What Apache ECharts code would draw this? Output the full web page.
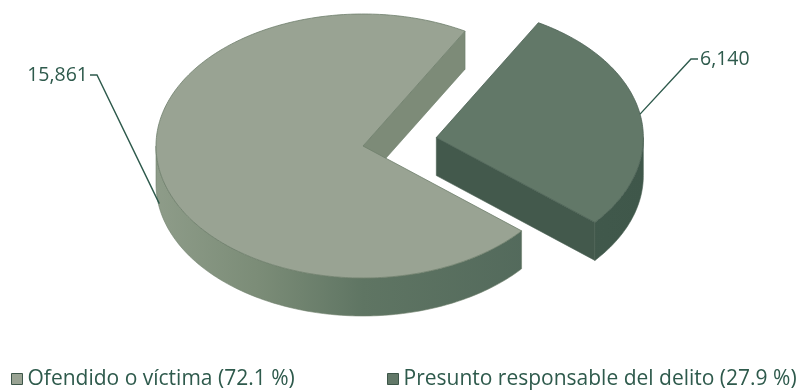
<!DOCTYPE html>
<html>
<head>
<meta charset="utf-8">
<script src="https://cdn.jsdelivr.net/npm/echarts@6/dist/echarts.min.js"></script>
<style>
  html, body { margin: 0; padding: 0; background: #ffffff; }
  #chart { width: 804px; height: 392px; }
</style>
</head>
<body>
<div id="chart"></div>
<script>
// Data
const categories = ['Ofendido o víctima', 'Presunto responsable del delito'];
const values = [15861, 6140];

// Styling per category
const topColors = ['#99a393', '#627868'];
const wallColors = ['#7d8b78', '#43594c'];
const sideStops = [
  [[0, '#8e9c89'], [0.25, '#7b8c77'], [0.5, '#5f7563'], [1, '#50675a']],
  [[0, '#4a6255'], [1, '#3f574a']]
];
const edgeColors = ['#6f7f6c', '#4b6154'];
const explode = [0, 0.36];          // offset of each slice, in radius units
const leaderDrop = [0.9, 0];        // where the leader meets the slice (fraction of depth)
const labelBox = [                  // text anchor and alignment of value labels
  { x: 88, y: 75, align: 'right' },
  { x: 700, y: 59, align: 'left' }
];

// Pie geometry (ellipse of the tilted disc)
const CX = 363, CY = 146, RX = 207, RY = 132, DEPTH = 38;
const START = 40;                   // degrees, clockwise on screen

const total = values.reduce((a, b) => a + b, 0);
const pct = values.map(v => (v / total * 100).toFixed(1));
const legendNames = categories.map((c, i) => c + ' (' + pct[i] + ' %)');

function angles(i) {
  let a = START;
  for (let k = 0; k < i; k++) a += values[k] / total * 360;
  return [a, a + values[i] / total * 360];
}
const rad = d => d * Math.PI / 180;

function makeRender(i) {
  return function (params, api) {
    const [a0, a1] = angles(i);
    const mid = (a0 + a1) / 2;
    const ox = CX + explode[i] * RX * Math.cos(rad(mid));
    const oy = CY + explode[i] * RY * Math.sin(rad(mid));
    const rim = (t, dy) => [ox + RX * Math.cos(rad(t)), oy + RY * Math.sin(rad(t)) + (dy || 0)];
    const arc = (lo, hi, dy) => {
      const pts = [];
      const n = Math.max(2, Math.ceil(hi - lo));
      for (let s = 0; s <= n; s++) pts.push(rim(lo + (hi - lo) * s / n, dy));
      return pts;
    };
    const children = [];
    const stroke = edgeColors[i];

    // radial walls that face the viewer
    const walls = [];
    if (Math.cos(rad(a0)) < 0) walls.push(a0);
    if (Math.cos(rad(a1)) > 0) walls.push(a1);
    walls.forEach(t => {
      const p = rim(t), q = rim(t, DEPTH);
      children.push({
        type: 'polygon',
        shape: { points: [[ox, oy], p, q, [ox, oy + DEPTH]] },
        style: { fill: wallColors[i], stroke: stroke, lineWidth: 0.6 }
      });
    });

    // outer curved side, front half only
    for (let k = -1; k <= 2; k++) {
      const lo = Math.max(a0, 360 * k), hi = Math.min(a1, 360 * k + 180);
      if (hi > lo) {
        const pts = arc(lo, hi, 0).concat(arc(lo, hi, DEPTH).reverse());
        children.push({
          type: 'polygon',
          shape: { points: pts },
          style: {
            fill: new echarts.graphic.LinearGradient(ox - RX, 0, ox + RX, 0,
              sideStops[i].map(s => ({ offset: s[0], color: s[1] })), true),
            stroke: stroke, lineWidth: 0.6
          }
        });
      }
    }

    // top face
    children.push({
      type: 'polygon',
      shape: { points: [[ox, oy]].concat(arc(a0, a1, 0)) },
      style: { fill: topColors[i], stroke: stroke, lineWidth: 0.8 }
    });

    // value label with leader line
    const anchor = rim(mid, DEPTH * leaderDrop[i]);
    const lb = labelBox[i];
    const dir = lb.align === 'right' ? 1 : -1;
    const elbow = [lb.x + dir * 9, lb.y];
    const tail = [lb.x + dir * 2, lb.y];
    children.push({
      type: 'polyline',
      shape: { points: [tail, elbow, anchor] },
      style: { stroke: '#2e5a4c', lineWidth: 1.4, fill: null }
    });
    children.push({
      type: 'text',
      style: {
        x: lb.x, y: lb.y, text: values[i].toLocaleString('en-US'),
        fill: '#2e5a4c', font: '19.5px "Open Sans"',
        align: lb.align, verticalAlign: 'middle'
      }
    });

    return { type: 'group', children: children };
  };
}

const chart = echarts.init(document.getElementById('chart'), null, { renderer: 'canvas' });

const legendBase = {
  orient: 'horizontal',
  top: 367,
  padding: 0,
  itemWidth: 11,
  itemHeight: 11,
  itemGap: 10,
  icon: 'rect',
  selectedMode: false,
  itemStyle: { borderColor: '#3d5649', borderWidth: 1 },
  textStyle: { color: '#2e5a4c', fontSize: 21, fontFamily: 'Open Sans', lineHeight: 24 }
};

chart.setOption({
  animation: false,
  backgroundColor: '#ffffff',
  legend: [
    Object.assign({}, legendBase, { left: 11, data: [legendNames[0]] }),
    Object.assign({}, legendBase, { left: 387, data: [legendNames[1]] })
  ],
  series: values.map((v, i) => ({
    type: 'custom',
    name: legendNames[i],
    coordinateSystem: 'none',
    silent: true,
    z: i + 1,
    itemStyle: { color: topColors[i] },
    renderItem: makeRender(i),
    data: [v]
  }))
});
</script>
</body>
</html>
